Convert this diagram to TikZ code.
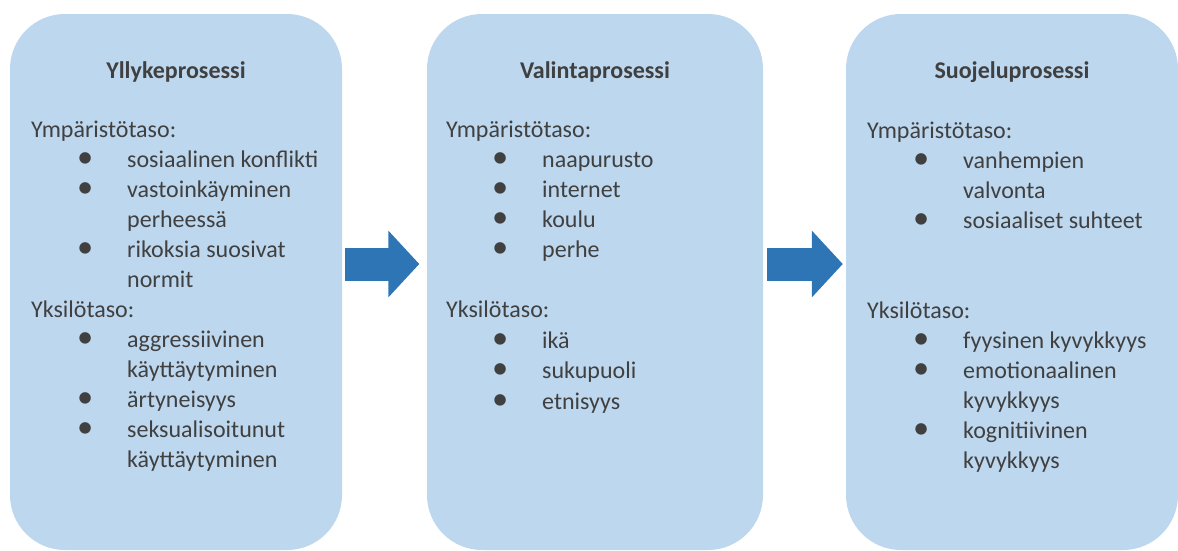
\documentclass[tikz,border=0pt]{standalone}
\usepackage{fontspec}
\setmainfont{Carlito}
\usetikzlibrary{arrows.meta}
\definecolor{boxblue}{HTML}{BDD7EE}
\definecolor{arrowblue}{HTML}{2E75B6}
\definecolor{textgray}{HTML}{404040}
\newcommand{\bulletmark}{\scalebox{1.35}{\textbullet}}
\newcommand{\dotitem}[1]{\hspace*{54pt}\makebox[0pt]{\bulletmark}\hspace*{42pt}#1}
\newcommand{\moreline}[1]{\hspace*{96pt}#1}

\begin{document}
\begin{tikzpicture}[x=1pt,y=-1pt,
    procbox/.style={rectangle,rounded corners=55pt,fill=boxblue,minimum width=332pt,minimum height=536pt,inner sep=0pt},
    heading/.style={anchor=base,inner sep=0pt,text=textgray,font=\fontsize{24pt}{30pt}\selectfont\bfseries},
    rowtext/.style={anchor=base west,inner sep=0pt,text=textgray,font=\fontsize{24pt}{30pt}\selectfont},
    blockarrow/.style={arrowblue,line width=33pt,-{Triangle[width=65pt,length=31pt]}}]
  \useasboundingbox (0,0) rectangle (1178,550);
  \node[procbox] (b1) at (176,282) {};
  \node[procbox,minimum width=336pt] (b2) at (595,282) {};
  \node[procbox] (b3) at (1012,282) {};

  \node[heading] (h1) at ([yshift=-65pt]b1.north) {Yllykeprosessi};
  \node[heading] (h2) at ([yshift=-65pt]b2.north) {Valintaprosessi};
  \node[heading] (h3) at ([yshift=-65pt]b3.north) {Suojeluprosessi};

  \foreach \y/\txt [count=\i] in {137/Ympäristötaso:, 167/\dotitem{sosiaalinen konflikti},
      197/\dotitem{vastoinkäyminen}, 227/\moreline{perheessä}, 257/\dotitem{rikoksia suosivat},
      287/\moreline{normit}, 317/Yksilötaso:, 347/\dotitem{aggressiivinen},
      377/\moreline{käyttäytyminen}, 407/\dotitem{ärtyneisyys}, 437/\dotitem{seksualisoitunut},
      467/\moreline{käyttäytyminen}}
    \node[rowtext] (r1-\i) at (31,\y) {\txt};

  \foreach \y/\txt [count=\i] in {137/Ympäristötaso:, 167/\dotitem{naapurusto},
      197/\dotitem{internet}, 227/\dotitem{koulu}, 257/\dotitem{perhe}, 317/Yksilötaso:,
      348/\dotitem{ikä}, 378/\dotitem{sukupuoli}, 409/\dotitem{etnisyys}}
    \node[rowtext] (r2-\i) at (446,\y) {\txt};

  \foreach \y/\txt [count=\i] in {138/Ympäristötaso:, 168/\dotitem{vanhempien},
      198/\moreline{valvonta}, 228/\dotitem{sosiaaliset suhteet}, 318/Yksilötaso:,
      348/\dotitem{fyysinen kyvykkyys}, 378/\dotitem{emotionaalinen}, 408/\moreline{kyvykkyys},
      438/\dotitem{kognitiivinen}, 468/\moreline{kyvykkyys}}
    \node[rowtext] (r3-\i) at (867,\y) {\txt};

  \draw[blockarrow,shorten <=3pt,shorten >=7.5pt] ([yshift=18pt]b1.east) -- ([yshift=18pt]b2.west);
  \draw[blockarrow,shorten <=4pt,shorten >=3pt] ([yshift=18pt]b2.east) -- ([yshift=18pt]b3.west);
\end{tikzpicture}
\end{document}
